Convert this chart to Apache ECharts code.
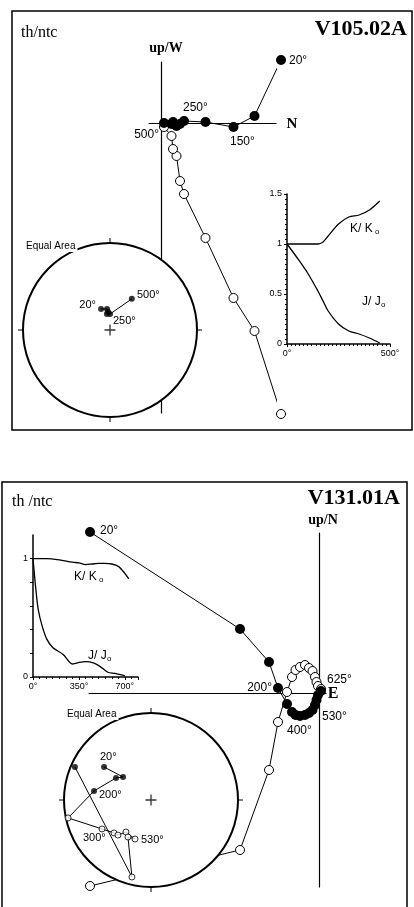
<!DOCTYPE html>
<html>
<head>
<meta charset="utf-8">
<script src="https://cdn.jsdelivr.net/npm/echarts@6/dist/echarts.min.js"></script>
<style>
html, body { margin: 0; padding: 0; background: #fff; }
#main { width: 414px; height: 907px; }
</style>
</head>
<body>
<div id="main"></div>
<script>
// V105.02A - Zijderveld (N axis, up/W), steps in degC
var zT1 = [20, 100, 150, 200, 250, 300, 350, 400, 450, 500];
var zN1 = [12.0, 9.35, 7.25, 4.45, 2.3, 1.9, 1.55, 1.2, 1.05, 0.3];
var zW1 = [6.3, 0.7, -0.4, 0.1, 0.2, -0.1, -0.3, 0.1, -0.1, 0.0];
var zUp1 = [-29.1, -20.8, -17.5, -11.5, -7.1, -5.8, -3.3, -2.6, -1.3, -0.4];

// V105.02A - normalised susceptibility / intensity
var tT1 = [0, 50, 100, 150, 175, 200, 250, 300, 350, 400, 450];
var kK1 = [1.0, 1.0, 1.0, 1.0, 1.02, 1.08, 1.2, 1.27, 1.29, 1.34, 1.43];
var jJ1 = [1.0, 0.86, 0.71, 0.53, 0.43, 0.33, 0.2, 0.13, 0.1, 0.06, 0.01];

// V105.02A - equal area (dec, inc)
var sDec1 = [337, 352, 354, 349, 0, 35];
var sInc1 = [68.6, 70.1, 73.1, 74.8, 75.1, 54.0];

// V131.01A - Zijderveld (E axis, up/N)
var zT2 = [20, 100, 150, 200, 250, 300, 350, 400, 450, 480, 500, 530, 560, 590, 625];
var zE2 = [-22.9, -7.9, -5.0, -4.1, -3.2, -2.7, -2.35, -1.9, -1.4, -1.0, -0.65, -0.4, -0.25, -0.1, 0.2];
var zNo2 = [16.1, 6.4, 3.1, 0.5, -1.1, -1.9, -2.2, -2.3, -2.2, -2.0, -1.7, -1.2, -0.7, -0.2, 0.2];
var zUp2 = [-19.3, -15.7, -7.7, -2.9, 0.1, 1.6, 2.3, 2.6, 2.8, 2.5, 2.2, 1.6, 1.1, 0.7, 0.4];

// V131.01A - normalised curves
var kT2 = [0, 100, 200, 300, 350, 400, 450, 500, 550, 600, 650, 700, 730];
var kK2 = [1.0, 1.0, 0.99, 0.97, 0.965, 0.95, 0.955, 0.96, 0.96, 0.955, 0.935, 0.875, 0.83];
var jT2 = [0, 20, 40, 70, 105, 150, 230, 300, 340, 400, 460, 510, 570, 625, 700];
var jJ2 = [1.0, 0.76, 0.57, 0.43, 0.32, 0.25, 0.19, 0.11, 0.12, 0.13, 0.12, 0.09, 0.04, 0.03, 0.01];

// V131.01A - equal area
var sDec2 = [305.1, 309.4, 302.2, 279, 257.8, 239.4, 228.3, 223.3, 218, 202.3, 211.9, 193.9, 293.5];
var sInc2 = [34.4, 55.8, 50.7, 34.1, -2.8, -34.9, -42.5, -43.9, -51.4, -49.9, -48.5, -9.7, 5.2];

var chart = echarts.init(document.getElementById('main'));

function pairs(a, b) {
  return a.map(function (v, i) { return [v, b[i]]; });
}
// equal-area radius, 1 = horizontal
function eqArea(inc) {
  return Math.SQRT2 * Math.sin((90 - Math.abs(inc)) / 2 * Math.PI / 180);
}
function stereo(dec, inc, keep) {
  var out = [];
  for (var i = 0; i < dec.length; i++) {
    if (!keep || keep(inc[i])) out.push([eqArea(inc[i]), dec[i]]);
  }
  return out;
}
var lower = function (v) { return v >= 0; };
var upper = function (v) { return v < 0; };

function zAxis(gi, min, max) {
  return {
    type: 'value', gridIndex: gi, min: min, max: max,
    axisLine: { onZero: true, lineStyle: { color: '#000', width: 1.2 } },
    axisTick: { show: false }, axisLabel: { show: false }, splitLine: { show: false }
  };
}
function insetAxis(gi, min, max, interval, minor, fmt, showMax) {
  return {
    type: 'value', gridIndex: gi, min: min, max: max, interval: interval,
    axisLine: { lineStyle: { color: '#000', width: 1.5 } },
    axisTick: { length: 3, lineStyle: { color: '#000' } },
    minorTick: { show: minor > 0, splitNumber: minor || 5, length: 2, lineStyle: { color: '#000' } },
    axisLabel: { color: '#000', fontSize: 9, fontFamily: 'Liberation Sans', margin: 5, formatter: fmt, showMaxLabel: !!showMax },
    splitLine: { show: false }
  };
}
function angleAx(pi) {
  return {
    polarIndex: pi, type: 'value', min: 0, max: 360, interval: 90, startAngle: 90, clockwise: true, z: 3,
    axisLine: { lineStyle: { color: '#000', width: 2 } },
    axisTick: { show: true, length: 5, lineStyle: { color: '#000', width: 1 } },
    axisLabel: { show: false }, splitLine: { show: false },
    splitArea: { show: true, areaStyle: { color: ['#fff'] } }
  };
}
function radiusAx(pi) {
  return {
    polarIndex: pi, type: 'value', min: 0, max: 1,
    axisLine: { show: false }, axisTick: { show: false }, axisLabel: { show: false }, splitLine: { show: false }
  };
}

var black = '#000';
function zLine(gi, data, filled, size) {
  return {
    type: 'line', xAxisIndex: gi, yAxisIndex: gi, data: data, clip: false, z: filled ? 2.5 : 2,
    symbol: 'circle', symbolSize: size, showAllSymbol: true,
    lineStyle: { color: black, width: 1 },
    itemStyle: filled ? { color: black } : { color: '#fff', borderColor: black, borderWidth: 1 }
  };
}
function curve(gi, data) {
  return {
    type: 'line', xAxisIndex: gi, yAxisIndex: gi, data: data, showSymbol: false, smooth: 0.3,
    lineStyle: { color: black, width: 1.3 }
  };
}
function sLine(pi, data) {
  return { type: 'line', coordinateSystem: 'polar', polarIndex: pi, data: data, showSymbol: false, z: 4,
    lineStyle: { color: black, width: 1 } };
}
function sDots(pi, data, filled) {
  return { type: 'scatter', coordinateSystem: 'polar', polarIndex: pi, data: data, z: 5, symbolSize: 6,
    itemStyle: filled ? { color: black } : { color: '#fff', borderColor: black, borderWidth: 1 } };
}
var plusPath = 'path://M4.4,0 H5.6 V4.4 H10 V5.6 H5.6 V10 H4.4 V5.6 H0 V4.4 H4.4 Z';
function sCentre(pi) {
  return { type: 'scatter', coordinateSystem: 'polar', polarIndex: pi, data: [[0, 0]], z: 5,
    symbol: plusPath, symbolSize: 11, itemStyle: { color: black } };
}

function txt(x, y, s, font, align, bg) {
  var st = { text: s, x: x, y: y, font: font, fill: '#000', textAlign: align || 'left', textVerticalAlign: 'middle' };
  if (bg) { st.backgroundColor = '#fff'; st.padding = [1, 2]; }
  return { type: 'text', z: 100, style: st };
}
var sans12 = '12px "Liberation Sans", Arial, sans-serif';
var sans11 = '11px "Liberation Sans", Arial, sans-serif';
var sans10 = '10px "Liberation Sans", Arial, sans-serif';
var sub = '8px "Liberation Sans", Arial, sans-serif';

var option = {
  animation: false,
  backgroundColor: '#fff',
  grid: [
    { left: 149, top: 62, width: 127, height: 351 },
    { left: 287, top: 194, width: 103, height: 150 },
    { left: 89, top: 533, width: 237, height: 354 },
    { left: 33, top: 535, width: 105, height: 142 }
  ],
  xAxis: [
    zAxis(0, -1.2, 11.5),
    insetAxis(1, 0, 500, 500, 25, '{value}°', true),
    zAxis(2, -23.0, 0.7),
    insetAxis(3, 0, 800, 350, 7, '{value}°')
  ],
  yAxis: [
    zAxis(0, -29.0, 6.1),
    insetAxis(1, 0, 1.5, 0.5, 10, null, true),
    zAxis(2, -19.4, 16.0),
    insetAxis(3, 0, 1.2, 0.2, 0, function (v) {
      return v === 0 ? '0' : (Math.abs(v - 1) < 1e-6 ? '1' : '');
    })
  ],
  polar: [
    { center: [110, 330], radius: 87 },
    { center: [151, 800], radius: 87 }
  ],
  angleAxis: [angleAx(0), angleAx(1)],
  radiusAxis: [radiusAx(0), radiusAx(1)],
  series: [
    zLine(0, pairs(zN1, zUp1), false, 9),
    zLine(0, pairs(zN1, zW1), true, 10),
    curve(1, pairs(tT1, kK1)),
    curve(1, pairs(tT1, jJ1)),
    zLine(2, pairs(zE2, zUp2), false, 9),
    zLine(2, pairs(zE2, zNo2), true, 10),
    curve(3, pairs(kT2, kK2)),
    curve(3, pairs(jT2, jJ2)),
    sLine(0, stereo(sDec1, sInc1)),
    sDots(0, stereo(sDec1, sInc1, lower), true),
    sDots(0, stereo(sDec1, sInc1, upper), false),
    sCentre(0),
    sLine(1, stereo(sDec2, sInc2)),
    sDots(1, stereo(sDec2, sInc2, lower), true),
    sDots(1, stereo(sDec2, sInc2, upper), false),
    sCentre(1)
  ],
  graphic: [
    { type: 'rect', z: 100, shape: { x: 12, y: 11, width: 400, height: 419 },
      style: { fill: 'none', stroke: '#000', lineWidth: 1.5 } },
    { type: 'rect', z: 100, shape: { x: 2, y: 482, width: 405, height: 440 },
      style: { fill: 'none', stroke: '#000', lineWidth: 1.5 } },

    txt(21, 33, 'th/ntc', '16px "Liberation Serif", serif'),
    txt(407, 29, 'V105.02A', 'bold 22px "Liberation Serif", serif', 'right'),
    txt(166, 48, 'up/W', 'bold 14px "Liberation Serif", serif', 'center'),
    txt(292, 124, 'N', 'bold 15px "Liberation Serif", serif', 'center'),
    txt(289, 61, '20°', sans12),
    txt(183, 108, '250°', sans12),
    txt(230, 142, '150°', sans12),
    txt(159, 135, '500°', sans12, 'right'),
    txt(24, 246, 'Equal Area', sans10, 'left', true),
    txt(96, 305, '20°', sans11, 'right'),
    txt(137, 295, '500°', sans11),
    txt(113, 321, '250°', sans11),
    txt(350, 229, 'K/ K', sans12),
    txt(375, 232, 'o', sub),
    txt(362, 302, 'J/ J', sans12),
    txt(381, 305, 'o', sub),

    txt(12, 502, 'th /ntc', '16px "Liberation Serif", serif'),
    txt(400, 498, 'V131.01A', 'bold 22px "Liberation Serif", serif', 'right'),
    txt(323, 520, 'up/N', 'bold 14px "Liberation Serif", serif', 'center'),
    txt(333, 694, 'E', 'bold 16px "Liberation Serif", serif', 'center'),
    txt(100, 531, '20°', sans12),
    txt(272, 688, '200°', sans12, 'right'),
    txt(327, 680, '625°', sans12),
    txt(322, 717, '530°', sans12),
    txt(287, 731, '400°', sans12),
    txt(65, 714, 'Equal Area', sans10, 'left', true),
    txt(100, 757, '20°', sans11),
    txt(99, 795, '200°', sans11),
    txt(83, 838, '300°', sans11),
    txt(141, 840, '530°', sans11),
    txt(74, 577, 'K/ K', sans12),
    txt(99, 580, 'o', sub),
    txt(88, 656, 'J/ J', sans12),
    txt(107, 659, 'o', sub)
  ]
};

chart.setOption(option);
</script>
</body>
</html>
